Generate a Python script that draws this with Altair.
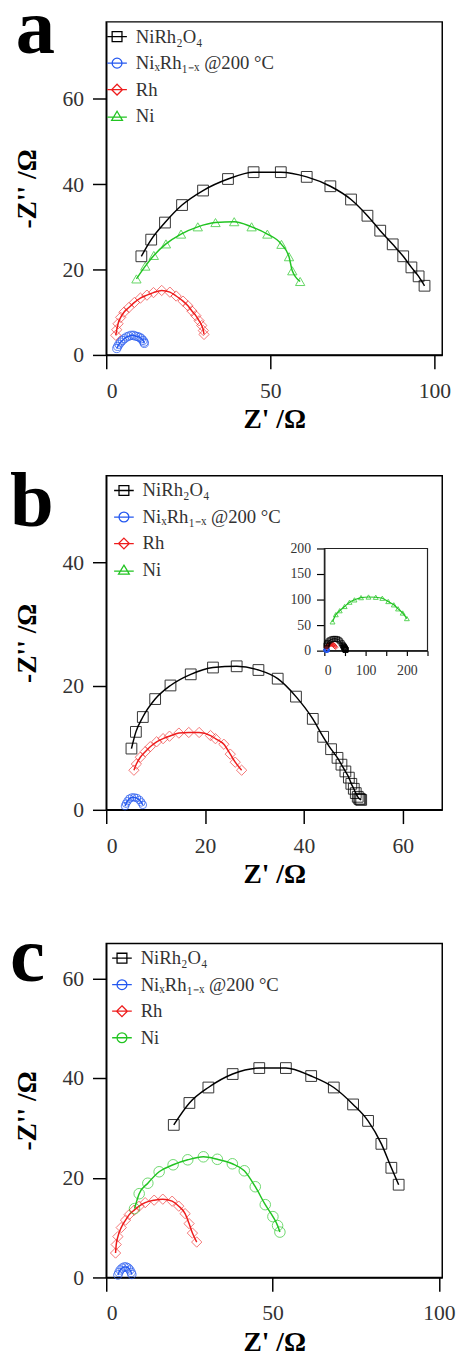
import altair as alt
import pandas as pd

SERIF = "Liberation Serif"

SERIES = ["NiRh₂O₄", "NiₓRh₁₋ₓ @200 °C", "Rh", "Ni"]
COLORS = ["#000000", "#2458F0", "#EE1C1C", "#22C422"]

# legend glyphs: marker with a line through it
P_SQUARE = "M-1,0H1M-0.5,-0.5H0.5V0.5H-0.5Z"
P_CIRCLE = "M-1,0H1M-0.5,0A0.5,0.5 0 1,1 0.5,0A0.5,0.5 0 1,1 -0.5,0Z"
P_DIAMOND = "M-1,0H1M0,-0.55L0.55,0L0,0.55L-0.55,0Z"
P_TRIANGLE = "M-1,0.1H1M0,-0.5L0.55,0.42H-0.55Z"

# ---------------- panel a ----------------
A_NIRH_X = [10.7, 13.7, 17.9, 23.1, 29.5, 37.1, 44.9, 53.2, 61.1, 68.3, 74.6, 79.6, 83.5, 87.3, 90.5, 93.0, 95.2, 97.0]
A_NIRH_Y = [23.1, 27.0, 31.0, 35.1, 38.5, 41.2, 42.8, 42.8, 41.7, 39.5, 36.4, 32.6, 29.1, 25.9, 23.1, 20.5, 18.4, 16.2]
A_NIX_X = [3.2, 3.5, 3.9, 4.4, 4.9, 5.5, 6.2, 6.9, 7.6, 8.3, 8.9, 9.6, 10.2, 10.7, 11.2, 11.5, 11.6]
A_NIX_Y = [1.5, 2.0, 2.5, 3.0, 3.4, 3.8, 4.2, 4.4, 4.6, 4.6, 4.4, 4.3, 4.1, 3.8, 3.4, 3.0, 2.7]
A_RH_X = [2.9, 3.2, 3.6, 4.4, 5.4, 6.9, 8.6, 10.4, 12.4, 14.4, 16.9, 19.4, 21.3, 23.4, 24.9, 26.1, 27.3, 28.3, 29.1, 29.6, 29.8]
A_RH_Y = [4.6, 5.9, 7.3, 8.8, 10.0, 11.1, 12.3, 13.3, 14.0, 14.6, 15.1, 14.7, 13.8, 12.6, 11.5, 10.3, 9.2, 8.0, 6.9, 5.7, 4.8]
A_NI_X = [9.2, 11.9, 14.5, 18.2, 22.8, 27.9, 33.3, 39.0, 44.3, 49.1, 53.4, 55.7, 56.7, 59.1]
A_NI_Y = [17.8, 20.8, 23.3, 26.0, 28.3, 30.0, 31.0, 31.2, 30.0, 28.3, 25.9, 23.0, 19.7, 17.2]

# ---------------- panel b ----------------
B_NIRH_X = [5.1, 6.0, 7.4, 9.9, 13.0, 17.1, 21.6, 26.4, 30.8, 34.7, 38.4, 41.8, 43.9, 45.5, 46.8, 47.6, 48.4, 49.1, 49.6, 50.1, 50.5, 50.9, 51.2, 51.4, 51.6]
B_NIRH_Y = [9.9, 12.6, 15.0, 17.9, 20.1, 21.9, 23.0, 23.2, 22.6, 21.2, 18.3, 14.7, 11.8, 9.8, 8.4, 7.3, 6.2, 5.2, 4.2, 3.4, 2.7, 2.1, 1.8, 1.7, 1.6]
B_NIX_X = [3.8, 4.0, 4.3, 4.7, 5.2, 5.7, 6.2, 6.7, 7.1, 7.4]
B_NIX_Y = [0.6, 1.0, 1.4, 1.8, 2.0, 2.0, 1.9, 1.6, 1.2, 0.8]
B_RH_X = [5.6, 6.1, 6.9, 7.9, 8.9, 10.2, 11.5, 12.8, 14.7, 16.7, 18.8, 21.1, 22.1, 23.8, 25.1, 26.1, 27.4]
B_RH_Y = [6.4, 7.4, 8.5, 9.4, 10.2, 11.0, 11.5, 11.9, 12.4, 12.5, 12.5, 12.0, 11.5, 10.6, 9.0, 7.7, 6.4]
B_NI_X = [19.8, 27.8, 37.3, 49.2, 61.1, 73.0, 88.9, 107.0, 124.6, 140.5, 154.8, 168.3, 178.6, 189.8, 200.0]
B_NI_Y = [56.4, 70.5, 78.2, 86.5, 94.9, 99.4, 103.8, 105.0, 104.5, 102.6, 96.2, 89.7, 81.9, 73.7, 62.8]

# ---------------- panel c ----------------
C_NIRH_X = [20.3, 25.0, 30.7, 38.0, 46.0, 54.0, 61.6, 68.4, 74.2, 78.7, 82.7, 85.7, 87.9]
C_NIRH_Y = [30.6, 35.0, 38.1, 40.8, 42.0, 42.0, 40.4, 38.1, 34.7, 31.4, 26.8, 22.0, 18.6]
C_NIX_X = [3.5, 3.8, 4.2, 4.8, 5.4, 6.0, 6.6, 7.1, 7.5, 7.7]
C_NIX_Y = [0.5, 1.0, 1.5, 1.9, 2.1, 2.1, 1.9, 1.5, 1.0, 0.6]
C_RH_X = [2.8, 3.0, 3.5, 4.5, 5.8, 6.9, 8.4, 9.9, 11.7, 14.4, 17.0, 19.8, 21.8, 23.7, 24.9, 25.9, 27.2]
C_RH_Y = [4.9, 6.6, 8.2, 10.0, 11.5, 12.6, 13.5, 14.3, 15.0, 15.5, 15.7, 15.3, 14.3, 12.8, 10.8, 8.9, 7.1]
C_NI_X = [8.5, 9.9, 12.5, 15.9, 20.1, 24.5, 29.2, 33.4, 37.9, 41.5, 44.8, 47.8, 50.1, 51.5, 52.2]
C_NI_Y = [13.8, 16.8, 18.9, 21.2, 22.6, 23.6, 24.2, 23.7, 22.8, 21.4, 18.2, 14.6, 12.2, 10.4, 9.1]

PANEL_LETTERS = ["a", "b", "c"]

W = 342


def xaxis(values):
    return alt.Axis(values=values, title="Z' /Ω", tickSize=14, labelPadding=12,
                    labelFontSize=22, titleFontSize=28, titlePadding=5, format="d")


def yaxis(values):
    return alt.Axis(values=values, title="-Z'' /Ω", tickSize=14, labelPadding=9,
                    labelFontSize=22, titleFontSize=28, titlePadding=21, format="d")


def series(x, y, color, shape, size, opacity, xs, ys, xa, ya, lw=1.5):
    df = pd.DataFrame({"x": x, "y": y})
    base = alt.Chart(df).encode(
        x=alt.X("x:Q", scale=xs, axis=xa),
        y=alt.Y("y:Q", scale=ys, axis=ya),
    )
    line = base.mark_line(color=color, strokeWidth=lw, interpolate="monotone")
    pts = base.mark_point(shape=shape, color=color, size=size, filled=False,
                          strokeWidth=1, opacity=opacity)
    return [line, pts]


def legend_layer(paths, lx):
    df = pd.DataFrame({"s": SERIES})
    leg = alt.Legend(orient="none", legendX=lx, legendY=4, title=None,
                     labelFont=SERIF, labelFontSize=19, labelColor="#333333",
                     symbolSize=400, symbolStrokeWidth=1.3, symbolOpacity=1,
                     rowPadding=6, labelOffset=8, padding=0)
    return alt.Chart(df).mark_point(filled=False, opacity=0).encode(
        color=alt.Color("s:N", scale=alt.Scale(domain=SERIES, range=COLORS), legend=leg),
        shape=alt.Shape("s:N", scale=alt.Scale(domain=SERIES, range=paths), legend=leg),
    )


def letter(i, dx, base):
    # panel letter annotation (a / b / c)
    return alt.Chart(pd.DataFrame({"t": [PANEL_LETTERS[i]]})).mark_text(
        font=SERIF, fontSize=80, fontWeight="bold", color="black",
        align="left", baseline="alphabetic"
    ).encode(text="t:N", x=alt.value(dx), y=alt.value(base))


# ---------- panel a ----------
xs_a = alt.Scale(domain=[0, 102.4], nice=False, zero=False)
ys_a = alt.Scale(domain=[0, 78], nice=False, zero=False)
xa_a = xaxis([0, 50, 100])
ya_a = yaxis([0, 20, 40, 60])
layers_a = [legend_layer([P_SQUARE, P_CIRCLE, P_DIAMOND, P_TRIANGLE], 0)]
layers_a += series(A_NIX_X, A_NIX_Y, COLORS[1], "circle", 70, 0.75, xs_a, ys_a, xa_a, ya_a)
layers_a += series(A_RH_X, A_RH_Y, COLORS[2], "diamond", 110, 0.6, xs_a, ys_a, xa_a, ya_a)
layers_a += series(A_NI_X, A_NI_Y, COLORS[3], "triangle-up", 90, 0.7, xs_a, ys_a, xa_a, ya_a)
layers_a += series(A_NIRH_X, A_NIRH_Y, COLORS[0], "square", 120, 0.8, xs_a, ys_a, xa_a, ya_a)
layers_a += [letter(0, -92, 32)]
panel_a = alt.layer(*layers_a).properties(width=W, height=339)

# ---------- panel b ----------
xs_b = alt.Scale(domain=[0, 68], nice=False, zero=False)
ys_b = alt.Scale(domain=[0, 54], nice=False, zero=False)
xa_b = xaxis([0, 20, 40, 60])
ya_b = yaxis([0, 20, 40])
layers_b = [legend_layer([P_SQUARE, P_CIRCLE, P_DIAMOND, P_TRIANGLE], 7)]
layers_b += series(B_NIX_X, B_NIX_Y, COLORS[1], "circle", 60, 0.75, xs_b, ys_b, xa_b, ya_b)
layers_b += series(B_RH_X, B_RH_Y, COLORS[2], "diamond", 110, 0.6, xs_b, ys_b, xa_b, ya_b)
layers_b += series(B_NIRH_X, B_NIRH_Y, COLORS[0], "square", 120, 0.8, xs_b, ys_b, xa_b, ya_b)
layers_b += [letter(1, -98, 51)]
main_b = alt.layer(*layers_b)

xs_i = alt.Scale(domain=[0, 250], range=[222, 327], nice=False, zero=False)
ys_i = alt.Scale(domain=[0, 200], range=[178, 74], nice=False, zero=False)
xa_i = alt.Axis(orient="bottom", offset=-162, values=[0, 50, 100, 150, 200, 250],
                labelExpr="datum.value % 100 == 0 ? datum.label : ''", title=None,
                tickSize=5, tickWidth=1.2, domainWidth=1.2, labelFontSize=14, labelPadding=8,
                format="d")
ya_i = alt.Axis(orient="left", offset=-222, values=[0, 50, 100, 150, 200], title=None,
                tickSize=8, tickWidth=1.2, domainWidth=1.2, labelFontSize=14, labelPadding=6,
                format="d")
frame_i = alt.Chart(pd.DataFrame({"k": [0]})).mark_rect(
    fillOpacity=0, stroke="#222222", strokeWidth=1.2).encode(
    x=alt.X(datum=0, scale=xs_i, axis=xa_i), x2=alt.X2(datum=250),
    y=alt.Y(datum=0, scale=ys_i, axis=ya_i), y2=alt.Y2(datum=200))
inset_layers = [frame_i]
inset_layers += series(B_NIX_X, B_NIX_Y, COLORS[1], "circle", 20, 0.8, xs_i, ys_i, xa_i, ya_i, 1)
inset_layers += series(B_RH_X, B_RH_Y, COLORS[2], "diamond", 22, 0.7, xs_i, ys_i, xa_i, ya_i, 1)
inset_layers += series(B_NIRH_X, B_NIRH_Y, COLORS[0], "square", 25, 0.8, xs_i, ys_i, xa_i, ya_i, 1)
inset_layers += series(B_NI_X, B_NI_Y, COLORS[3], "triangle-up", 25, 0.75, xs_i, ys_i, xa_i, ya_i, 1.2)
inset_b = alt.layer(*inset_layers)

panel_b = alt.layer(main_b, inset_b).resolve_scale(
    x="independent", y="independent").properties(width=W, height=340)

# ---------- panel c ----------
xs_c = alt.Scale(domain=[0, 101], nice=False, zero=False)
ys_c = alt.Scale(domain=[0, 67], nice=False, zero=False)
xa_c = xaxis([0, 50, 100])
ya_c = yaxis([0, 20, 40, 60])
layers_c = [legend_layer([P_SQUARE, P_CIRCLE, P_DIAMOND, P_CIRCLE], 5)]
layers_c += series(C_NIX_X, C_NIX_Y, COLORS[1], "circle", 75, 0.75, xs_c, ys_c, xa_c, ya_c)
layers_c += series(C_RH_X, C_RH_Y, COLORS[2], "diamond", 110, 0.6, xs_c, ys_c, xa_c, ya_c)
layers_c += series(C_NI_X, C_NI_Y, COLORS[3], "circle", 115, 0.65, xs_c, ys_c, xa_c, ya_c)
layers_c += series(C_NIRH_X, C_NIRH_Y, COLORS[0], "square", 120, 0.8, xs_c, ys_c, xa_c, ya_c)
layers_c += [letter(2, -98, 38)]
panel_c = alt.layer(*layers_c).properties(width=W, height=340)

chart = alt.vconcat(panel_a, panel_b, panel_c, spacing=28).resolve_scale(
    color="independent", shape="independent"
).resolve_legend(
    color="independent", shape="independent"
).properties(
    padding={"left": 1, "top": -31, "right": 0, "bottom": -3}
).configure_view(
    stroke="black", strokeWidth=1.5
).configure_axis(
    domainColor="black", domainWidth=1.5, tickColor="black", tickWidth=1.5,
    labelFont=SERIF, labelColor="#333333", titleFont=SERIF, titleFontWeight="bold",
    titleColor="black", grid=False
)

chart.save("out.html", embed_options={"renderer": "svg", "actions": False})
